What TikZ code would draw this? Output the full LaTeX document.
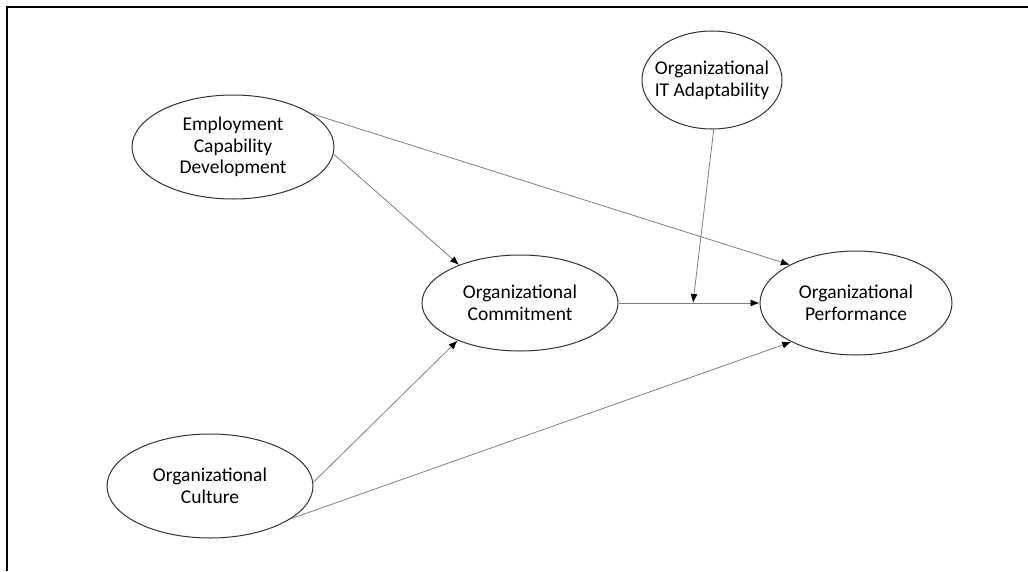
\documentclass[tikz,border=0pt]{standalone}
\usepackage{fontspec}
\setmainfont{Carlito}
\usetikzlibrary{shapes.geometric,arrows.meta}
\begin{document}
\begin{tikzpicture}[x=1pt,y=-1pt,
  construct/.style={ellipse,draw=black!80,line width=1pt,inner sep=0pt,align=center,
    font=\fontsize{19.5}{21.7}\selectfont},
  link/.style={draw=black!50,line width=0.8pt,-{Latex[length=9pt,width=7pt,color=black]}}]
\useasboundingbox (0,0) rectangle (1028,571);
\draw[line width=1.2pt] (7,571) -- (7,7) -- (1028,7);
\node[construct,minimum width=202pt,minimum height=104pt] (ecd) at (233,147)
  {Employment\\Capability\\Development};
\node[construct,minimum width=140pt,minimum height=98pt,inner xsep=-10pt] (oita) at (712,80)
  {Organizational\\IT Adaptability};
\node[construct,minimum width=196pt,minimum height=96pt] (oc) at (520,303)
  {Organizational\\Commitment};
\node[construct,minimum width=192pt,minimum height=104pt] (op) at (856,303)
  {Organizational\\Performance};
\node[construct,minimum width=206pt,minimum height=104pt] (cul) at (210,486)
  {Organizational\\Culture};
\coordinate (meet) at (693,303);
\draw[link] (ecd.23) -- (op.150);
\draw[link] (ecd.-4) -- (oc.148);
\draw[link] (cul.2) -- (oc.211);
\draw[link] (cul.-22) -- (op.211);
\draw[link] (oc) -- (op);
\draw[link] (oita.-88) -- (meet);
\end{tikzpicture}
\end{document}
